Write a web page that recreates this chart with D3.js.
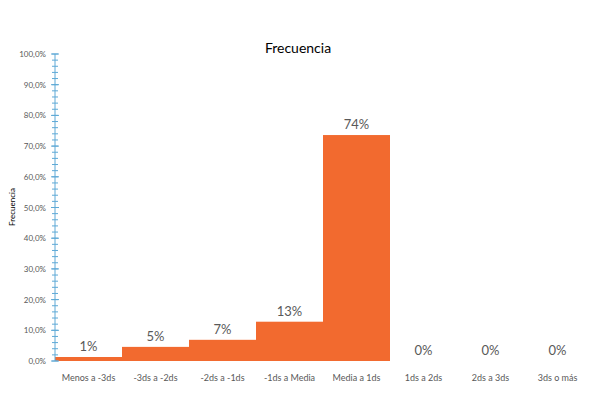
<!DOCTYPE html>
<html>
<head>
<meta charset="utf-8">
<script src="https://cdn.jsdelivr.net/npm/d3@7"></script>
<style>
  body { margin: 0; background: #fff; }
  svg { font-family: Lato, "Open Sans", sans-serif; }
</style>
</head>
<body>
<div id="chart"></div>
<script>
const categories = ["Menos a -3ds", "-3ds a -2ds", "-2ds a -1ds", "-1ds a Media", "Media a 1ds", "1ds a 2ds", "2ds a 3ds", "3ds o más"];
const values = [0.013, 0.046, 0.069, 0.128, 0.736, 0, 0, 0];
const labels = ["1%", "5%", "7%", "13%", "74%", "0%", "0%", "0%"];
const yTicks = [0, 0.1, 0.2, 0.3, 0.4, 0.5, 0.6, 0.7, 0.8, 0.9, 1.0];

const width = 600, height = 416;
const plotLeft = 55, plotRight = 591, plotTop = 54, plotBottom = 361;

const svg = d3.select("#chart").append("svg")
    .attr("width", width)
    .attr("height", height);

const x = d3.scaleBand().domain(categories).range([plotLeft, plotRight]).padding(0);
const y = d3.scaleLinear().domain([0, 1]).range([plotBottom, plotTop]);

// bars
svg.selectAll("rect.bar")
    .data(values)
    .enter()
    .append("rect")
    .classed("bar", true)
    .attr("x", (d, i) => x(categories[i]))
    .attr("y", d => y(d))
    .attr("width", x.bandwidth())
    .attr("height", d => plotBottom - y(d))
    .style("fill", "#f26a2f");

// data labels
svg.selectAll("text.lbl")
    .data(values)
    .enter()
    .append("text")
    .classed("lbl", true)
    .attr("x", (d, i) => x(categories[i]) + x.bandwidth() / 2)
    .attr("y", d => y(d) - 6)
    .attr("text-anchor", "middle")
    .style("font-size", "13px")
    .style("fill", "#595959")
    .text((d, i) => labels[i]);

// y axis with minor ticks
const minor = d3.range(0, 51).map(i => i / 50);
const axis = svg.append("g");
axis.append("line")
    .attr("x1", plotLeft).attr("x2", plotLeft)
    .attr("y1", y(0)).attr("y2", y(1))
    .attr("stroke", "#5ea9d6");
axis.selectAll("line.minor")
    .data(minor)
    .enter()
    .append("line")
    .classed("minor", true)
    .attr("x1", plotLeft - 3).attr("x2", plotLeft + 3)
    .attr("y1", d => y(d)).attr("y2", d => y(d))
    .attr("stroke", "#5ea9d6");
axis.selectAll("line.major")
    .data(yTicks)
    .enter()
    .append("line")
    .classed("major", true)
    .attr("x1", plotLeft - 4).attr("x2", plotLeft + 4)
    .attr("y1", d => y(d)).attr("y2", d => y(d))
    .attr("stroke", "#5ea9d6");
axis.selectAll("text.tick")
    .data(yTicks)
    .enter()
    .append("text")
    .classed("tick", true)
    .attr("x", plotLeft - 9)
    .attr("y", d => y(d) + 3)
    .attr("text-anchor", "end")
    .style("font-size", "8px")
    .style("fill", "#595959")
    .text(d => d3.format(".1f")(d * 100).replace(".", ",") + "%");

// x labels
svg.selectAll("text.cat")
    .data(categories)
    .enter()
    .append("text")
    .classed("cat", true)
    .attr("x", d => x(d) + x.bandwidth() / 2)
    .attr("y", 381)
    .attr("text-anchor", "middle")
    .style("font-size", "9px")
    .style("fill", "#595959")
    .text(d => d);

// title
svg.append("text")
    .attr("x", 298)
    .attr("y", 53)
    .attr("text-anchor", "middle")
    .style("font-size", "14px")
    .style("fill", "#000")
    .text("Frecuencia");

// y title
svg.append("text")
    .attr("transform", "translate(15, 207) rotate(-90)")
    .attr("text-anchor", "middle")
    .style("font-size", "8px")
    .style("fill", "#000")
    .text("Frecuencia");
</script>
</body>
</html>
